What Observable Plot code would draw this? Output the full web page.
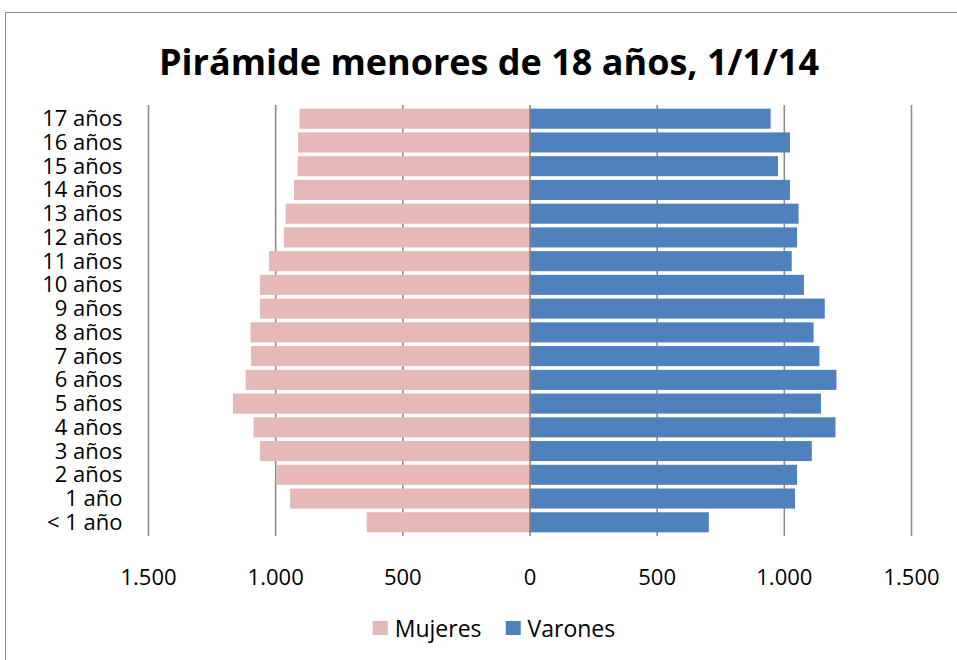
<!DOCTYPE html>
<html>
<head>
<meta charset="utf-8">
<script src="https://cdn.jsdelivr.net/npm/d3@7"></script>
<script src="https://cdn.jsdelivr.net/npm/@observablehq/plot@0.6"></script>
<style>
  html, body { margin: 0; padding: 0; background: #fff; overflow: hidden; }
  body { width: 957px; height: 660px; position: relative; font-family: "Open Sans", sans-serif; }
  #frame { position: absolute; left: 5px; top: 12px; width: 1000px; height: 700px; border: 1px solid #8c8c8c; box-sizing: border-box; }
  #title { position: absolute; top: 37px; left: 489px; transform: translateX(-50%); white-space: nowrap;
           font-size: 36px; font-weight: bold; color: #000; line-height: 50px; }
  #chart { position: absolute; left: 0; top: 0; }
  #legend { position: absolute; top: 612px; left: 494px; transform: translateX(-50%); display: flex; align-items: center;
            white-space: nowrap; font-size: 23px; color: #000; line-height: 32px; }
  .sw { display: inline-block; width: 15px; height: 14px; margin-right: 7px; }
  .item { display: flex; align-items: center; margin: 0 12px; }
</style>
</head>
<body>
<div id="frame"></div>
<div id="title">Pirámide menores de 18 años, 1/1/14</div>
<div id="chart"></div>
<div id="legend"></div>
<script>
// Age groups, bottom (youngest) to top (oldest)
const ages = ["< 1 año", "1 año", "2 años", "3 años", "4 años", "5 años", "6 años", "7 años", "8 años",
              "9 años", "10 años", "11 años", "12 años", "13 años", "14 años", "15 años", "16 años", "17 años"];
const mujeres = [640, 941, 993, 1060, 1085, 1166, 1116, 1095, 1097, 1060, 1060, 1024, 966, 959, 926, 912, 910, 904];
const varones = [705, 1044, 1052, 1110, 1203, 1146, 1207, 1140, 1117, 1161, 1079, 1031, 1052, 1058, 1024, 977, 1024, 948];
const xTicks = [-1500, -1000, -500, 0, 500, 1000, 1500];
const seriesNames = ["Mujeres", "Varones"];
const seriesColors = ["#e6b8b7", "#4f81bd"];

const data = ages.map((a, i) => ({age: a, mujeres: mujeres[i], varones: varones[i]}));
const esFormat = d3.formatLocale({decimal: ",", thousands: ".", grouping: [3], currency: ["", " €"]}).format(",d");

const chart = Plot.plot({
  width: 957,
  height: 600,
  marginLeft: 148,
  marginRight: 46,
  marginTop: 105,
  marginBottom: 64,
  style: {fontFamily: "Open Sans, sans-serif", fontSize: "22px", color: "#000", background: "transparent"},
  x: {domain: [-1500, 1500], ticks: xTicks},
  y: {domain: ages.slice().reverse(), paddingInner: 0.155, paddingOuter: 0.155, round: false, label: null},
  marks: [
    Plot.ruleX(xTicks.filter(t => t !== 0), {stroke: "#8c8c8c", strokeWidth: 1.6}),
    Plot.barX(data, {x1: 0, x2: d => -d.mujeres, y: "age", fill: seriesColors[0]}),
    Plot.barX(data, {x1: 0, x2: d => d.varones, y: "age", fill: seriesColors[1]}),
    Plot.ruleX([0], {stroke: "#868686", strokeWidth: 1.6}),
    Plot.axisX({ticks: xTicks, tickFormat: d => esFormat(Math.abs(d)), tickSize: 0, tickPadding: 33, label: null, fontSize: 22}),
    Plot.axisY({tickSize: 0, tickPadding: 26, label: null, fontSize: 22})
  ]
});
document.getElementById("chart").appendChild(chart);

const legend = document.getElementById("legend");
seriesNames.forEach((n, i) => {
  const it = document.createElement("span");
  it.className = "item";
  const sw = document.createElement("span");
  sw.className = "sw";
  sw.style.background = seriesColors[i];
  it.appendChild(sw);
  it.appendChild(document.createTextNode(n));
  legend.appendChild(it);
});
</script>
</body>
</html>
